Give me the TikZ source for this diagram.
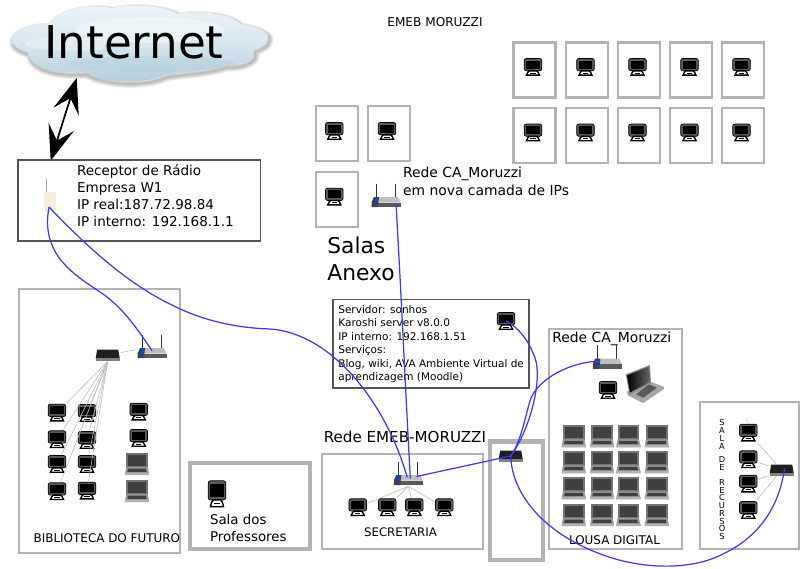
\documentclass[tikz,border=0pt]{standalone}
\usepackage{fontspec}
\setmainfont{DejaVu Sans}
\usetikzlibrary{arrows.meta,calc}
\definecolor{roomg}{HTML}{B3B3B3}
\definecolor{boxg}{HTML}{555555}
\definecolor{linkb}{HTML}{3A3AF0}
\definecolor{wireg}{HTML}{BDBDBD}
\definecolor{cloudt}{HTML}{EEF6F9}
\definecolor{cloudm}{HTML}{D6E7EF}
\definecolor{cloudl}{HTML}{B2CEDB}
\definecolor{cream}{HTML}{F4EED8}
\newcommand{\pcshape}{%
  \draw[black,fill=black!65,line width=.4pt,rounded corners=1.2] (-8.8,-8.5) rectangle (8.8,3.8);
  \fill[black] (-6.6,-6.5) rectangle (6.6,1.7);
  \draw[black,fill=white,line width=.8pt] (-6.5,8.2) .. controls (-6,5.5) and (-4,3.8) .. (-3.5,3.8)
    -- (3.5,3.8) .. controls (4,3.8) and (6,5.5) .. (6.5,8.2) -- cycle;
  \draw[black,line width=.5pt] (-2.6,6) -- (2.6,6);
}
\newcommand{\cloudpath}{(12,38) .. controls (14,30) and (30,24) .. (50,24)
  .. controls (55,12) and (85,3) .. (112,8) .. controls (135,3) and (165,6) .. (178,14)
  .. controls (200,10) and (232,14) .. (240,24) .. controls (255,26) and (270,32) .. (268,38)
  .. controls (268,44) and (258,48) .. (253,50) .. controls (258,58) and (245,66) .. (225,65)
  .. controls (205,72) and (180,72) .. (165,75) .. controls (145,84) and (105,84) .. (85,72)
  .. controls (60,74) and (30,70) .. (28,52) .. controls (18,50) and (10,44) .. (12,38) -- cycle}
\tikzset{
  room/.style={draw=roomg,line width=1.3pt},
  roomwide/.style={draw=roomg,line width=2.3pt},
  infobox/.style={draw=boxg,line width=.7pt},
  wire/.style={draw=wireg,line width=.35pt},
  wlink/.style={draw=linkb,line width=.7pt},
  txt/.style={inner sep=0pt,anchor=north west,align=left},
  pcicon/.style={inner sep=0pt,minimum width=20*0.02cm,minimum height=19*0.02cm,
    path picture={\begin{scope}[shift={(path picture bounding box.center)}]\pcshape\end{scope}}},
  pctall/.style={inner sep=0pt,minimum width=20*0.02cm,minimum height=29*0.02cm,
    path picture={\begin{scope}[shift={(path picture bounding box.center)},y=-0.031cm]\pcshape\end{scope}}},
  laptopicon/.style={inner sep=0pt,minimum width=25*0.02cm,minimum height=23*0.02cm,
    path picture={\begin{scope}[shift={(path picture bounding box.center)}]
      \fill[black!55] (-10.8,-11) rectangle (10.8,3.5);
      \fill[black!75] (-8.8,-9.3) rectangle (8.8,2);
      \fill[black!40] (-10.8,3) -- (10.8,3) -- (12.2,11) -- (-12.2,11) -- cycle;
      \fill[black!75] (-9,4.6) -- (9,4.6) -- (9.6,7.8) -- (-9.6,7.8) -- cycle;
      \fill[black!30] (-12.2,9) rectangle (12.2,11);
    \end{scope}}},
  routericon/.style={inner sep=0pt,minimum width=30*0.02cm,minimum height=25*0.02cm,
    path picture={\begin{scope}[shift={(path picture bounding box.center)}]
      \draw[black!80,line width=.6pt] (-9.5,-12) -- (-9.5,3) (9.5,-12) -- (9.5,3);
      \fill[black!25] (-12,1.5) -- (12,1.5) -- (14.5,7) -- (-14.5,7) -- cycle;
      \fill[black!65] (-14.5,7) rectangle (14.5,11.5);
      \fill[black!75] (-12,1.5) -- (-7,1.5) -- (-8,11.5) -- (-14.5,11.5) -- (-14.5,7) -- cycle;
      \fill[blue!70!cyan] (-10.5,2.5) rectangle (-8,6.2) (-10.5,8.2) rectangle (-8,10.2);
    \end{scope}}},
  switchicon/.style={inner sep=0pt,minimum width=26*0.02cm,minimum height=12*0.02cm,
    path picture={\begin{scope}[shift={(path picture bounding box.center)}]
      \fill[black!88] (-10.5,-5.5) -- (10.5,-5.5) -- (12,3) -- (-12,3) -- cycle;
      \fill[black!50] (-12,3) rectangle (12,5.5);
    \end{scope}}},
  radioicon/.style={inner sep=0pt,minimum width=14*0.02cm,minimum height=33*0.02cm,
    path picture={\begin{scope}[shift={(path picture bounding box.center)}]
      \fill[black!35] (-4,-16.5) rectangle (-2.6,-3.5);
      \fill[cream] (-6,-3.5) rectangle (6,16);
      \fill[black!8] (-6,-3.5) rectangle (-4.6,16);
    \end{scope}}},
  biglaptop/.style={inner sep=0pt,minimum width=40*0.02cm,minimum height=40*0.02cm,
    path picture={\begin{scope}[shift={(path picture bounding box.center)}]
      \fill[black!35] (5.8,-2.3) -- (19.2,2.7) -- (19.5,5) -- (-1.2,19) -- (-16.2,11.7) -- (-18,7.7) -- cycle;
      \fill[black!65] (-8.5,10.3) -- (4.5,.3) -- (12.2,3.7) -- (-1.2,13.7) -- cycle;
      \fill[black!45] (-18.8,-9.7) -- (5.5,-19) -- (6.5,-.7) -- (-15,11) -- cycle;
      \shade[left color=black,right color=black!60] (-17.5,-8.5) -- (4.5,-17.5) -- (5.2,-2) -- (-14.5,8.5) -- cycle;
    \end{scope}}},
}
\begin{document}
\begin{tikzpicture}[x=0.02cm,y=-0.02cm]
  \useasboundingbox (0,0) rectangle (800,568);
  \foreach \w in {8,6,4,2} \draw[black,line width=\w*0.569pt,opacity=.07,shift={(1.5,2.5)}] \cloudpath;
  \shade[top color=cloudt,bottom color=cloudl,middle color=cloudm] \cloudpath;
  \fill[white,opacity=.4] (150,30) ellipse (75 and 13);
  \fill[white,opacity=.3] (70,44) ellipse (45 and 7);
  \fill[cloudl,opacity=.4] (150,64) ellipse (85 and 8);
  \node[font=\fontsize{25.7}{30}\selectfont,inner sep=0pt] (inet) at (134,42) {Internet};

  \coordinate (bolta) at (76.7,78);
  \coordinate (boltb) at (50.7,160.7);
  \draw[line width=1pt,{Stealth[length=20pt,width=15pt,inset=8pt]}-{Stealth[length=20pt,width=15pt,inset=8pt]}] (bolta) -- (boltb);

  \draw[infobox] (18,160) rectangle (260.7,241);
  \node[radioicon] (radio) at (50,195) {};
  \node[txt,font=\fontsize{7.7}{9.65}\selectfont] (recep) at (76.7,164) {Receptor de Rádio\\Empresa W1\\IP real:187.72.98.84\\IP interno: 192.168.1.1};

  \node[inner sep=0pt,font=\fontsize{6.9}{8}\selectfont,anchor=base west] (emeb) at (387,27) {EMEB MORUZZI};
  \foreach \r/\yy in {a/42.5,b/108}
    \foreach \i/\xx in {1/513.5,2/566,3/618,4/670,5/722}{
      \draw[room] (\xx,\yy) rectangle +(42,55);
      \node[pcicon] (pc\r\i) at (\xx+19.5,\yy+24.5) {};}
  \foreach \n/\xx/\yy/\cx/\cy in {anx1/316/106/334.3/131,anx2/368/106/387/131,anx3/316/172/334.3/196.7}{
    \draw[room] (\xx,\yy) rectangle +(42,55);
    \node[pcicon] (\n) at (\cx,\cy) {};}
  \node[routericon] (rtanx) at (386,195.5) {};
  \node[txt,font=\fontsize{7.9}{10.2}\selectfont] (camada) at (402.7,167) {Rede CA\_Moruzzi\\em nova camada de IPs};
  \node[txt,font=\fontsize{12.4}{15.7}\selectfont] (salas) at (327,236.5) {Salas\\Anexo};

  \draw[roomwide,line width=1.4pt] (19,289) rectangle (180,553);
  \node[switchicon] (swbib) at (107.7,355) {};
  \node[routericon] (rtbib) at (152,346.7) {};
  \foreach \n/\x/\y in {b1/57/412.7,b2/57/439.3,b3/57/464,b4/57/491.3,b5/87/413,b6/87/440,b7/87/464,b8/87/490.7,b9/138.7/411.7,b10/138.7/438}
    \node[pcicon] (\n) at (\x,\y) {};
  \foreach \n/\y in {la1/464,la2/491}
    \node[laptopicon] (\n) at (137,\y) {};
  \foreach \n in {b1,b2,b3,b4,b5,b6,b7,b8}
    \draw[wire] (swbib.south) -- (\n);
  \draw[wire] (swbib) -- (rtbib);
  \node[inner sep=0pt,font=\fontsize{6.8}{8}\selectfont,anchor=base west] (biblio) at (33.3,542.3) {BIBLIOTECA DO FUTURO};

  \draw[roomwide] (190,463) rectangle (310,549);
  \node[pctall] (pcprof) at (217,494) {};
  \node[txt,font=\fontsize{7.6}{9.8}\selectfont] (prof) at (209.7,514) {Sala dos\\Professores};

  \draw[infobox] (333,299.5) rectangle (529,388);
  \node[txt,font=\fontsize{5.98}{7.6}\selectfont] (servidor) at (338,305.3) {Servidor: sonhos\\Karoshi server v8.0.0\\IP interno: 192.168.1.51\\Serviços:\\Blog, wiki, AVA Ambiente Virtual de\\aprendizagem (Moodle)};
  \node[pcicon] (pcsrv) at (506,321) {};

  \node[inner sep=0pt,font=\fontsize{8.6}{10}\selectfont,anchor=base west] (redeem) at (323.5,442.7) {Rede EMEB-MORUZZI};
  \draw[room] (322,454) rectangle (483,549);
  \node[routericon] (rtsec) at (408.3,473.5) {};
  \foreach \n/\x in {s1/357.7,s2/387.3,s3/414.3,s4/444.3}{
    \node[pcicon] (\n) at (\x,507.3) {};
    \draw[wire] (rtsec.south) -- (\n);}
  \node[inner sep=0pt,font=\fontsize{6.7}{8}\selectfont,anchor=base] (secret) at (400.5,536.7) {SECRETARIA};

  \draw[roomwide] (490,441.5) rectangle (543,560);
  \node[switchicon] (swmid) at (510.7,456) {};

  \draw[room] (549,329) rectangle (682,549);
  \node[inner sep=0pt,font=\fontsize{7.9}{9}\selectfont,anchor=base west] (redeca) at (552,342.7) {Rede CA\_Moruzzi};
  \node[routericon] (rtca) at (607.3,357) {};
  \node[pcicon] (pcca) at (608,390) {};
  \node[biglaptop] (lpca) at (644.5,384) {};
  \foreach \y [count=\r] in {436.3,462.3,488.3,515}
    \foreach \x [count=\c] in {573.7,602,628.3,656.7}
      \node[laptopicon] (l\r\c) at (\x,\y) {};
  \node[inner sep=0pt,font=\fontsize{6.8}{8}\selectfont,anchor=base] (lousa) at (614.5,544) {LOUSA DIGITAL};

  \draw[room] (700,402) rectangle (799,549);
  \node[switchicon] (swrec) at (781.7,470) {};
  \foreach \n/\y in {r1/432.7,r2/459.3,r3/483.7,r4/510}{
    \node[pcicon] (\n) at (748.3,\y) {};
    \draw[wire] (swrec) -- (\n);}
  \coordinate (rtop) at (746.7,418.3);
  \draw[wire] (r1) -- (rtop);
  \node[inner sep=0pt,align=center,font=\fontsize{4.7}{4.4}\selectfont,anchor=north] (recursos) at (722,419.5) {S\\A\\L\\A\\[3.4pt]D\\E\\[4pt]R\\E\\C\\U\\R\\S\\O\\S};

  \draw[wlink] ([shift={(-1,12)}]radio.center) .. controls (40,255) and (75,275) .. (100,292) .. controls (120,305) and (135,325) .. ([shift={(0,4)}]rtbib.center);
  \draw[wlink] ([shift={(-1,12)}]radio.center) .. controls (90,250) and (130,285) .. (172,305) .. controls (205,322) and (240,328) .. (270,329) .. controls (330,333) and (385,400) .. ([shift={(-1,4)}]rtsec.center);
  \draw[wlink] ([shift={(10,8)}]rtanx.center) .. controls (401,290) and (405,380) .. ([shift={(2,5)}]rtsec.center);
  \draw[wlink] ([shift={(8,3)}]rtsec.center) -- (swmid.center);
  \draw[wlink] (swmid.center) .. controls (530,430) and (545,375) .. (533,353) .. controls (528,340) and (518,327) .. (pcsrv.center);
  \draw[wlink] (swmid.center) .. controls (522,440) and (526,412) .. (531,398) .. controls (540,378) and (570,362) .. ([shift={(-7,4)}]rtca.center);
  \draw[wlink] (swmid.center) .. controls (512,495) and (545,535) .. (606,556) .. controls (640,568) and (690,572) .. (725,553) .. controls (765,533) and (780,500) .. ([shift={(3,-2)}]swrec.center);
\end{tikzpicture}
\end{document}
